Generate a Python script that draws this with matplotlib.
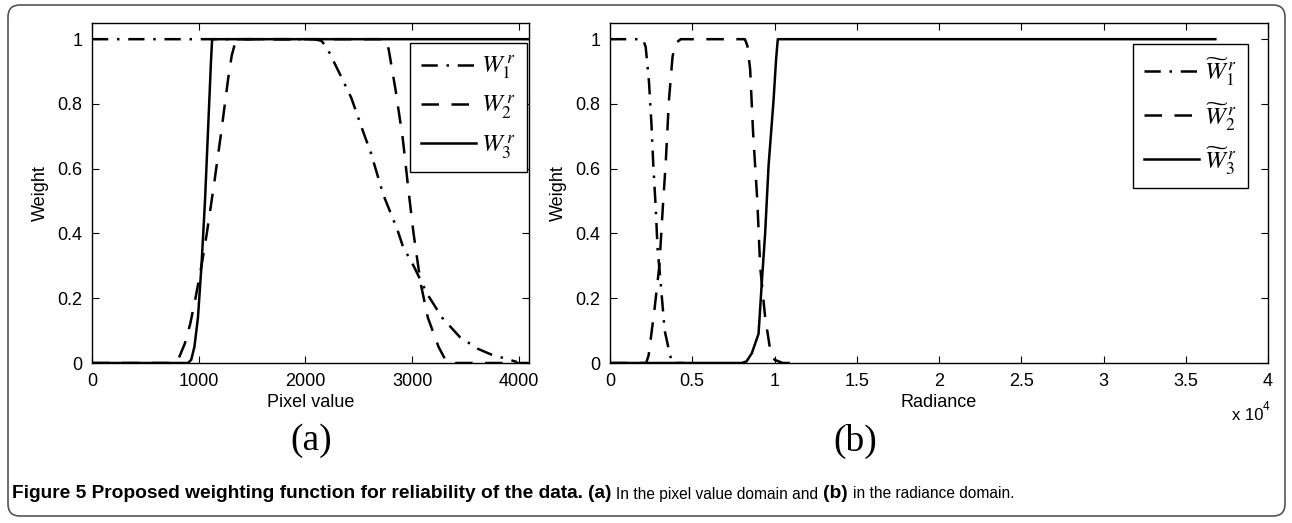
import matplotlib
matplotlib.use('Agg')
import matplotlib.pyplot as plt
from matplotlib.patches import FancyBboxPatch

plt.rcParams['font.family'] = ['Liberation Sans', 'DejaVu Sans']
plt.rcParams['mathtext.fontset'] = 'stix'

# (a) weights in the pixel value domain
pix_w1_x = [0, 2000, 2080, 2150, 2200, 2312, 2429, 2546, 2613, 2730, 2864, 2914, 3014, 3148, 3282, 3448, 3616, 3750, 3883, 3983]
pix_w1_y = [1, 1, 1.0, 0.995, 0.975, 0.90, 0.82, 0.71, 0.65, 0.52, 0.41, 0.36, 0.30, 0.21, 0.14, 0.08, 0.044, 0.025, 0.013, 0.003]
pix_w2_x = [0, 780, 820, 870, 920, 970, 1026, 1076, 1143, 1210, 1277, 1310, 1343, 1400, 2750, 2780, 2847, 2914, 2964, 3014, 3081, 3148, 3248, 3315, 3360, 4095]
pix_w2_y = [0, 0, 0.02, 0.06, 0.12, 0.20, 0.30, 0.40, 0.55, 0.71, 0.88, 0.95, 0.99, 1.0, 1.0, 0.97, 0.84, 0.69, 0.54, 0.40, 0.245, 0.14, 0.05, 0.008, 0, 0]
pix_w3_x = [0, 900, 930, 960, 993, 1026, 1059, 1093, 1115, 1126, 4095]
pix_w3_y = [0, 0, 0.01, 0.05, 0.14, 0.30, 0.50, 0.76, 0.93, 1.0, 1.0]

# (b) weights in the radiance domain
rad_w1_x = [0, 2000, 2170, 2370, 2520, 2630, 2780, 2890, 3110, 3320, 3650, 3800, 4500]
rad_w1_y = [1, 1, 0.976, 0.868, 0.738, 0.614, 0.479, 0.355, 0.230, 0.101, 0.024, 0.0, 0.0]
rad_w2_x = [0, 2200, 2350, 2710, 3000, 3210, 3390, 3580, 3800, 3970, 4300, 8200, 8350, 8520, 8700, 8950, 9130, 9430, 9740, 10000, 10500, 11500]
rad_w2_y = [0, 0, 0.024, 0.168, 0.30, 0.48, 0.62, 0.81, 0.945, 0.987, 1.0, 1.0, 0.98, 0.907, 0.71, 0.505, 0.297, 0.142, 0.04, 0.01, 0.0, 0.0]
rad_w3_x = [0, 8000, 8300, 8620, 9030, 9230, 9430, 9640, 9940, 10100, 10200, 36800]
rad_w3_y = [0, 0, 0.005, 0.03, 0.09, 0.25, 0.40, 0.61, 0.81, 0.94, 1.0, 1.0]

pix_ticks = [0, 1000, 2000, 3000, 4000]
rad_ticks = [0, 5000, 10000, 15000, 20000, 25000, 30000, 35000, 40000]
rad_ticklabels = ['0', '0.5', '1', '1.5', '2', '2.5', '3', '3.5', '4']
y_ticks = [0, 0.2, 0.4, 0.6, 0.8, 1]
y_ticklabels = ['0', '0.2', '0.4', '0.6', '0.8', '1']

dashdot = (0, (6.5, 3.5, 1, 3.5))
dashed = (0, (7, 5))

fig = plt.figure(figsize=(12.92, 5.23), dpi=100)
ax1 = fig.add_axes([92/1292, 160/523, 437/1292, 340/523])
ax2 = fig.add_axes([610/1292, 160/523, 658/1292, 340/523])

ax1.plot(pix_w1_x, pix_w1_y, color='black', lw=1.8, linestyle=dashdot, label='$W_1^{\\,r}$')
ax1.plot(pix_w2_x, pix_w2_y, color='black', lw=1.8, linestyle=dashed, label='$W_2^{\\,r}$')
ax1.plot(pix_w3_x, pix_w3_y, color='black', lw=1.8, label='$W_3^{\\,r}$')

ax2.plot(rad_w1_x, rad_w1_y, color='black', lw=1.8, linestyle=dashdot, label='$\\widetilde{W}_1^{\\,r}$')
ax2.plot(rad_w2_x, rad_w2_y, color='black', lw=1.8, linestyle=dashed, label='$\\widetilde{W}_2^{\\,r}$')
ax2.plot(rad_w3_x, rad_w3_y, color='black', lw=1.8, label='$\\widetilde{W}_3^{\\,r}$')

ax1.set_xlim(0, 4096)
ax1.set_xticks(pix_ticks)
ax1.set_xlabel('Pixel value', fontsize=13, labelpad=3)
ax2.set_xlim(0, 40000)
ax2.set_xticks(rad_ticks)
ax2.set_xticklabels(rad_ticklabels)
ax2.set_xlabel('Radiance', fontsize=13, labelpad=3)

for ax in (ax1, ax2):
    ax.set_ylim(0, 1.05)
    ax.set_yticks(y_ticks)
    ax.set_yticklabels(y_ticklabels)
    ax.set_ylabel('Weight', fontsize=13, labelpad=6)
    ax.tick_params(direction='in', top=True, right=True, length=5, width=0.8,
                   labelsize=13, pad=7)
    for s in ax.spines.values():
        s.set_linewidth(1.0)

leg_kw = dict(loc='upper right', fontsize=18, frameon=True, fancybox=False,
              edgecolor='black', framealpha=1, borderaxespad=0,
              handlelength=2.2, handletextpad=0.2, labelspacing=0.45,
              borderpad=0.45)
l1 = ax1.legend(bbox_to_anchor=(0.995, 0.941), **leg_kw)
l2 = ax2.legend(bbox_to_anchor=(0.97, 0.938), **leg_kw)
for l in (l1, l2):
    l.get_frame().set_linewidth(1.0)

fig.text(1232/1292, 1 - 416/523, 'x 10', fontsize=12, ha='left', va='center')
fig.text(1263/1292, 1 - 407/523, '4', fontsize=8.5, ha='left', va='center')

serif = ['Liberation Serif', 'DejaVu Serif']
fig.text(311/1292, 1 - 441/523, '(a)', family=serif, fontsize=27, ha='center', va='center')
fig.text(855/1292, 1 - 441/523, '(b)', family=serif, fontsize=27, ha='center', va='center')

# caption, pieces chained one after another
cap = ['Liberation Sans', 'DejaVu Sans']
t = fig.text(12/1292, 1 - 494/523, 'Figure 5 Proposed weighting function for reliability of the data.',
             family=cap, fontsize=13.8, weight='bold', va='center')
pieces = [('(a)', 'bold', 13.8), ('In the pixel value domain and', 'normal', 11.2),
          ('(b)', 'bold', 13.8), ('in the radiance domain.', 'normal', 11.2)]
for txt, w, fs in pieces:
    t = ax1.annotate(txt, xy=(1, 0.5), xycoords=t, xytext=(3.5, 0), textcoords='offset points',
                     family=cap, fontsize=fs, weight=w, va='center', annotation_clip=False)

border = FancyBboxPatch((8/100, 7/100), 1277/100, 511/100,
                        boxstyle='round,pad=0,rounding_size=0.12',
                        transform=fig.dpi_scale_trans, facecolor='none',
                        edgecolor='#555555', lw=1.2)
fig.add_artist(border)

fig.savefig('out.png', dpi=100)
